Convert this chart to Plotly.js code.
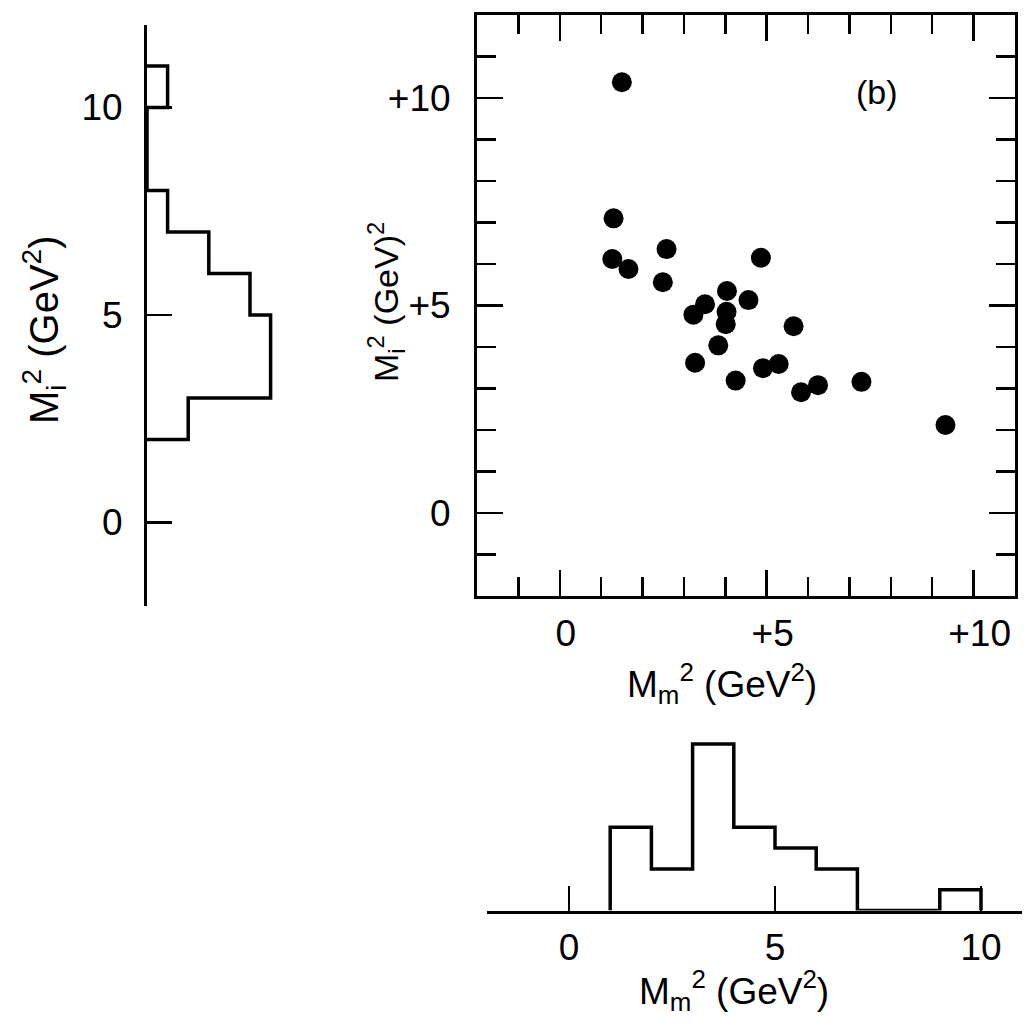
<!DOCTYPE html>
<html><head><meta charset="utf-8">
<script src="https://cdn.plot.ly/plotly-3.0.1.min.js"></script>
<style>html,body{margin:0;padding:0;background:#fff}</style>
</head><body>
<div id="chart" style="width:1028px;height:1027px"></div>
<script>
// Scatter (b): M_m^2 vs M_i^2 (GeV^2)
const mmSq = [1.50, 1.30, 1.27, 1.66, 2.58, 2.49, 4.86, 4.04, 4.56, 3.51, 3.23, 4.03, 4.01, 5.65, 3.83, 3.27, 4.25, 4.91, 5.29, 5.83, 6.24, 7.29, 9.32];
const miSq = [10.38, 7.10, 6.12, 5.88, 6.36, 5.56, 6.15, 5.35, 5.13, 5.03, 4.78, 4.85, 4.55, 4.50, 4.04, 3.62, 3.19, 3.49, 3.59, 2.91, 3.08, 3.16, 2.12];

// Projection histograms (bin lower edges, width 1 GeV^2, counts)
const miBinLow = [2, 3, 4, 5, 6, 7, 8, 9, 10];
const miCounts = [2, 6, 6, 5, 3, 1, 0, 0, 1];
const mmBinLow = [1, 2, 3, 4, 5, 6, 7, 8, 9];
const mmCounts = [4, 2, 8, 4, 3, 2, 0, 0, 1];
const binWidth = 1;

// Tick labels
const scatterTickVals = [0, 5, 10];
const scatterTickText = ['0', '+5', '+10'];
const histTickVals = [0, 5, 10];
const histTickText = ['0', '5', '10'];

function stepOutline(lows, counts, w) {
  const pos = [lows[0]], cnt = [0];
  for (let i = 0; i < lows.length; i++) {
    pos.push(lows[i], lows[i] + w);
    cnt.push(counts[i], counts[i]);
  }
  pos.push(lows[lows.length - 1] + w);
  cnt.push(0);
  return {pos, cnt};
}

const miStep = stepOutline(miBinLow, miCounts, binWidth);
const mmStep = stepOutline(mmBinLow, mmCounts, binWidth);

const FONT = 'Liberation Sans';
const W = 1028, H = 1027;
const px = v => v / W;
const py = v => 1 - v / H;

const traces = [
  {type: 'scatter', mode: 'markers', x: mmSq, y: miSq, xaxis: 'x', yaxis: 'y',
   marker: {size: 20, color: '#000'}, hoverinfo: 'x+y'},
  {type: 'scatter', mode: 'lines', x: miStep.cnt, y: miStep.pos, xaxis: 'x2', yaxis: 'y2',
   line: {color: '#000', width: 3.5}},
  {type: 'scatter', mode: 'lines', x: mmStep.pos, y: mmStep.cnt, xaxis: 'x3', yaxis: 'y3',
   line: {color: '#000', width: 3.5}}
];

const tickFont = {family: FONT, size: 37, color: '#000'};
const titleFont = {family: FONT, size: 37, color: '#000'};

function label(text, x, y, angle, font) {
  return {text, xref: 'paper', yref: 'paper', x: px(x), y: py(y),
          xanchor: 'center', yanchor: 'middle', textangle: angle || 0,
          showarrow: false, font: font || titleFont};
}

const layout = {
  width: W, height: H,
  margin: {l: 0, r: 0, t: 0, b: 0},
  paper_bgcolor: '#fff', plot_bgcolor: 'rgba(0,0,0,0)',
  showlegend: false,
  font: {family: FONT, color: '#000'},
  xaxis: {
    domain: [px(477), px(1015)], range: [-2, 11], anchor: 'y',
    showline: true, linewidth: 3, linecolor: '#000', mirror: 'allticks',
    showgrid: false, zeroline: false,
    tickmode: 'array', tickvals: scatterTickVals, ticktext: scatterTickText,
    ticks: 'inside', ticklen: 26, tickwidth: 2.5, tickcolor: '#000',
    minor: {tickmode: 'linear', tick0: 0, dtick: 1, ticks: 'inside', ticklen: 19, tickwidth: 2.5, tickcolor: '#000', showgrid: false},
    tickfont: tickFont, ticklabelstandoff: 3, ticklabelshift: 6
  },
  yaxis: {
    domain: [py(596), py(15)], range: [-2, 12], anchor: 'x',
    showline: true, linewidth: 3, linecolor: '#000', mirror: 'allticks',
    showgrid: false, zeroline: false,
    tickmode: 'array', tickvals: scatterTickVals, ticktext: scatterTickText,
    ticks: 'inside', ticklen: 26, tickwidth: 2.5, tickcolor: '#000',
    minor: {tickmode: 'linear', tick0: 0, dtick: 1, ticks: 'inside', ticklen: 19, tickwidth: 2.5, tickcolor: '#000', showgrid: false},
    tickfont: tickFont, ticklabelstandoff: 16
  },
  xaxis2: {
    domain: [px(147), px(301)], range: [0, 7.476], anchor: 'y2',
    visible: false
  },
  yaxis2: {
    domain: [py(605.5), py(24.5)], range: [-2, 12], anchor: 'x2',
    showline: true, linewidth: 3, linecolor: '#000',
    showgrid: false, zeroline: false,
    tickmode: 'array', tickvals: histTickVals, ticktext: histTickText,
    ticks: 'inside', ticklen: 25, tickwidth: 2.5, tickcolor: '#000',
    tickfont: tickFont, ticklabelstandoff: 14
  },
  xaxis3: {
    domain: [px(486.6), px(1022.2)], range: [-2, 11], anchor: 'y3',
    showline: true, linewidth: 3, linecolor: '#000',
    showgrid: false, zeroline: false,
    tickmode: 'array', tickvals: histTickVals, ticktext: histTickText,
    ticks: 'inside', ticklen: 25, tickwidth: 2.5, tickcolor: '#000',
    tickfont: tickFont, ticklabelstandoff: 2
  },
  yaxis3: {
    domain: [py(910.5), py(728.8)], range: [0, 8.736], anchor: 'x3',
    visible: false
  },
  annotations: [
    label('(b)', 877, 92, 0, {family: FONT, size: 34, color: '#000'}),
    label('M<sub>i</sub><sup>2</sup> (GeV)<sup>2</sup>', 386, 302, -90, {family: FONT, size: 34, color: '#000'}),
    label('M<sub>i</sub><sup>2</sup> (GeV<sup>2</sup>)', 44, 330, -90, {family: FONT, size: 40, color: '#000'}),
    label('M<sub>m</sub><sup>2</sup> (GeV<sup>2</sup>)', 722, 683, 0),
    label('M<sub>m</sub><sup>2</sup> (GeV<sup>2</sup>)', 734, 990, 0)
  ]
};

Plotly.newPlot('chart', traces, layout, {staticPlot: true, displayModeBar: false});
</script>
</body></html>
